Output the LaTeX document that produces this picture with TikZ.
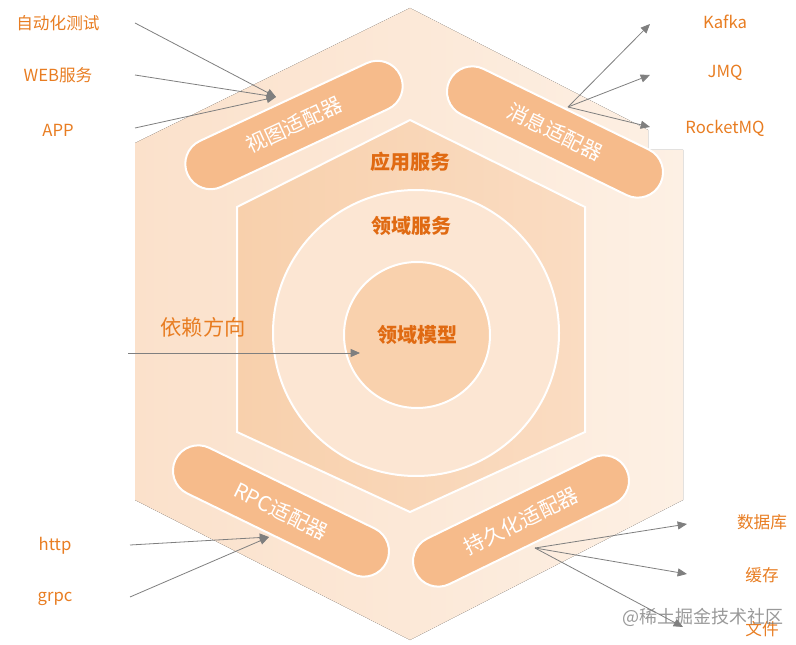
\documentclass[tikz,border=0pt]{standalone}
\usepackage{fontspec}
\setmainfont{Noto Sans CJK SC}
\usetikzlibrary{arrows.meta}
\definecolor{accent}{HTML}{E87D22}
\definecolor{darkaccent}{HTML}{E06A12}
\definecolor{outerleft}{HTML}{FBE1CB}
\definecolor{outerright}{HTML}{FDF0E4}
\definecolor{midleft}{HTML}{F8D0AC}
\definecolor{midright}{HTML}{FADCC2}
\definecolor{ringfill}{HTML}{FCE6D3}
\definecolor{corefill}{HTML}{F9D1AD}
\definecolor{capsulefill}{HTML}{F6BB8B}
\definecolor{linkgray}{HTML}{7F7F7F}

\tikzset{
  capsule/.style={draw=white,line width=1.5pt,fill=capsulefill,rounded corners=19pt,
    minimum width=176pt,minimum height=38pt,text=white,font=\fontsize{15.5pt}{15.5pt}\selectfont},
  layerlabel/.style={text=darkaccent,font=\fontsize{15pt}{15pt}\selectfont\bfseries},
  sidelabel/.style={text=accent,font=\fontsize{12.5pt}{12.5pt}\selectfont},
  link/.style={draw=linkgray,line width=0.6pt,-{Triangle[length=7pt,width=6pt]}}
}

\begin{document}
\begin{tikzpicture}[x=0.75pt,y=-0.75pt]
\useasboundingbox (0,0) rectangle (796,645);

% outer hexagon (adapters)
\fill[left color=outerleft,right color=outerright]
  (410,8) -- (648,130) -- (648,150) -- (683,150) -- (683,500) -- (410,640) -- (135,500) -- (135,143) -- cycle;

% application layer
\draw[draw=white,line width=1.5pt,left color=midleft,right color=midright]
  (410,120) -- (585,207) -- (585,432) -- (410,512) -- (237,432) -- (237,207) -- cycle;

% domain rings
\draw[draw=white,line width=1.5pt,fill=ringfill] (416,333) circle[radius=143];
\draw[draw=white,line width=1.5pt,fill=corefill] (417,335) circle[radius=73];

\node[layerlabel] (app) at (410,162) {应用服务};
\node[layerlabel] (service) at (411,226) {领域服务};
\node[layerlabel] (model) at (417,335) {领域模型};

% adapters
\node[capsule,rotate=25] (view) at (294,125) {视图适配器};
\node[capsule,rotate=-26] (msg) at (555,132) {消息适配器};
\node[capsule,rotate=-26] (rpc) at (281,511) {RPC适配器};
\node[capsule,rotate=26] (store) at (521,521) {持久化适配器};

% dependency direction
\node[sidelabel,font=\fontsize{16pt}{16pt}\selectfont] (dep) at (203,327) {依赖方向};
\coordinate (depfrom) at (128,353);
\coordinate (depto) at (360,353);
\draw[link] (depfrom) -- (depto);

% view inputs
\node[sidelabel] (autotest) at (58,23) {自动化测试};
\node[sidelabel] (web) at (58,75) {WEB服务};
\node[sidelabel] (apk) at (58,130) {APP};
\coordinate (autofrom) at (135,23);
\coordinate (webfrom) at (135,75);
\coordinate (apkfrom) at (135,128);
\coordinate (viewtip) at (276,97);
\draw[link] (autofrom) -- (viewtip);
\draw[link] (webfrom) -- (viewtip);
\draw[link] (apkfrom) -- (viewtip);

% message outputs
\node[sidelabel] (kafka) at (725,22) {Kafka};
\node[sidelabel] (jmq) at (725,73) {JMQ};
\node[sidelabel] (rocket) at (725,128) {RocketMQ};
\coordinate (msgfrom) at (568,107);
\coordinate (kafkato) at (650,24);
\coordinate (jmqto) at (650,75);
\coordinate (rocketto) at (650,127);
\draw[link] (msgfrom) -- (kafkato);
\draw[link] (msgfrom) -- (jmqto);
\draw[link] (msgfrom) -- (rocketto);

% rpc inputs
\node[sidelabel] (http) at (55,546) {http};
\node[sidelabel] (grpc) at (55,599) {grpc};
\coordinate (httpfrom) at (130,545);
\coordinate (grpcfrom) at (130,597);
\coordinate (rpctip) at (269,537);
\draw[link] (httpfrom) -- (rpctip);
\draw[link] (grpcfrom) -- (rpctip);

% storage outputs
\node[sidelabel] (db) at (762,522) {数据库};
\node[sidelabel] (cache) at (762,575) {缓存};
\node[sidelabel] (file) at (762,629) {文件};
\coordinate (storefrom) at (535,548);
\coordinate (dbto) at (687,524);
\coordinate (cacheto) at (687,574);
\coordinate (fileto) at (683,627);
\draw[link] (storefrom) -- (dbto);
\draw[link] (storefrom) -- (cacheto);
\draw[link] (storefrom) -- (fileto);

\node[text=gray,opacity=0.8,font=\fontsize{13.5pt}{13.5pt}\selectfont] (mark) at (703,617) {@稀土掘金技术社区};
\end{tikzpicture}
\end{document}
